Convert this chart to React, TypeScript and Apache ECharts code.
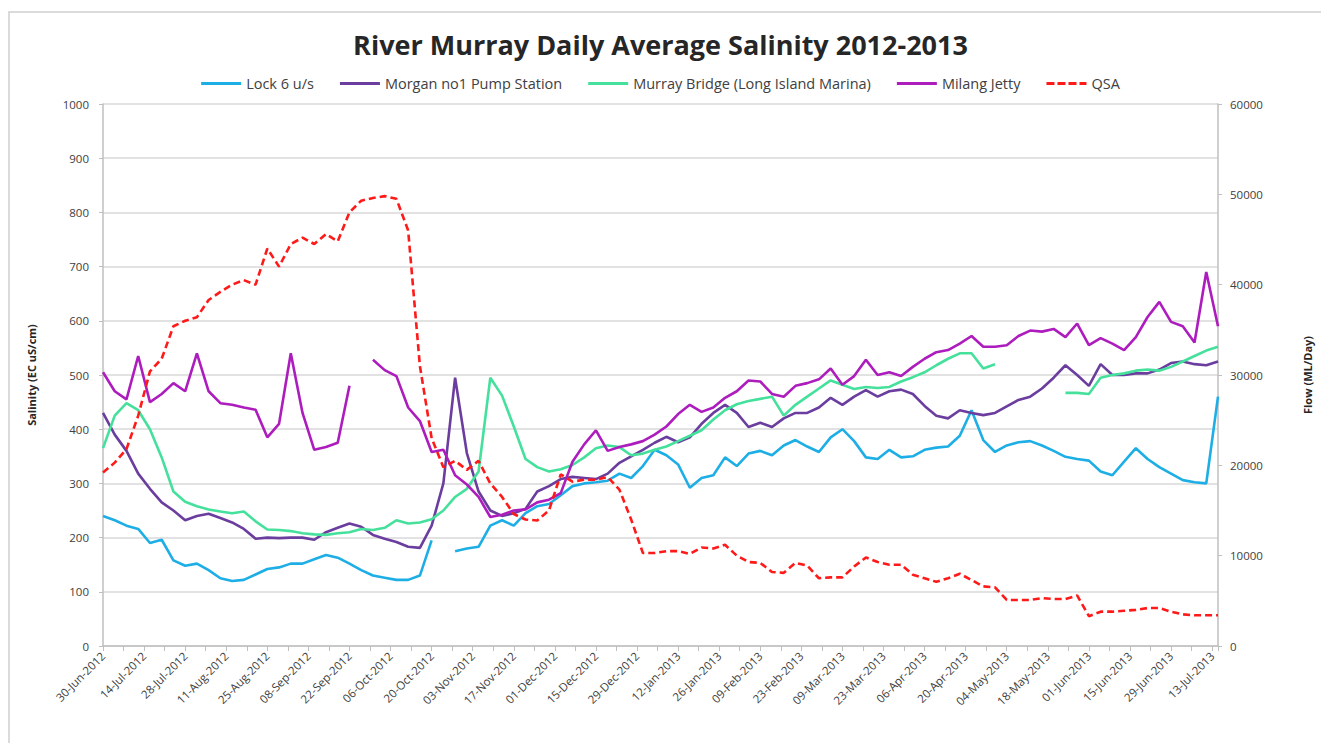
import React, { useEffect, useRef } from "react";
import * as echarts from "echarts";

// Day 0 = 30-Jun-2012; samples every 4 days up to day 380 (15-Jul-2013)
const START_UTC = Date.UTC(2012, 5, 30);
const STEP_DAYS = 4;
const AXIS_MAX_DAY = 380;
const LABEL_EVERY_DAYS = 14;
const MONTHS = ["Jan", "Feb", "Mar", "Apr", "May", "Jun", "Jul", "Aug", "Sep", "Oct", "Nov", "Dec"];

const seriesNames = [
  "Lock 6 u/s",
  "Morgan no1 Pump Station",
  "Murray Bridge (Long Island Marina)",
  "Milang Jetty",
  "QSA",
];

const lock6 = [
  240, 232, 222, 216, 190, 196, 158, 148, 152, 140,
  125, 120, 122, 132, 142, 145, 152, 152, 160, 168,
  163, 152, 140, 130, 126, 122, 122, 130, 195, null,
  175, 180, 183, 222, 232, 222, 245, 258, 262, 278,
  295, 300, 302, 305, 318, 310, 332, 362, 352, 335,
  292, 310, 315, 348, 332, 355, 360, 352, 370, 380,
  368, 358, 385, 400, 378, 348, 345, 362, 348, 350,
  362, 366, 368, 388, 435, 380, 358, 370, 376, 378,
  370, 360, 349, 345, 342, 322, 315, 340, 365, 345,
  330, 318, 306, 302, 300, 460,
];

const morgan = [
  430, 390, 360, 318, 290, 265, 250, 232, 240, 244,
  236, 228, 216, 198, 200, 199, 200, 200, 196, 210,
  218, 226, 220, 205, 198, 192, 183, 181, 222, 300,
  495, 356, 285, 250, 240, 245, 253, 285, 295, 308,
  312, 310, 308, 318, 338, 350, 362, 375, 386, 376,
  385, 410, 430, 445, 430, 404, 412, 404, 420, 430,
  430, 440, 458, 445, 460, 472, 460, 470, 473, 465,
  443, 425, 420, 435, 430, 426, 430, 442, 454, 460,
  475, 495, 518, 500, 480, 520, 500, 500, 503, 503,
  510, 522, 525, 520, 518, 525,
];

const murrayBridge = [
  365, 425, 448, 435, 400, 348, 285, 266, 258, 252,
  248, 245, 248, 230, 215, 214, 212, 208, 206, 205,
  208, 210, 216, 214, 218, 232, 226, 228, 234, 250,
  275, 290, 322, 495, 462, 405, 345, 330, 322, 326,
  334, 348, 365, 370, 367, 352, 355, 362, 368, 378,
  388, 398, 418, 435, 446, 452, 456, 460, 425, 445,
  460, 475, 490, 482, 474, 478, 476, 478, 488, 496,
  505, 518, 530, 540, 540, 512, 520, null, null, null,
  null, null, 467, 467, 465, 495, 500, 503, 508, 510,
  508, 515, 525, 535, 545, 552,
];

const milang = [
  505, 470, 455, 535, 450, 465, 485, 470, 540, 470,
  448, 445, 440, 436, 385, 410, 540, 430, 362, 367,
  375, 480, null, 528, 509, 498, 440, 415, 358, 362,
  315, 298, 275, 238, 242, 250, 252, 265, 270, 282,
  340, 372, 398, 360, 367, 372, 378, 390, 405, 428,
  445, 432, 440, 458, 470, 490, 488, 465, 460, 480,
  485, 492, 512, 482, 498, 528, 500, 505, 498, 515,
  530, 542, 546, 558, 572, 552, 552, 555, 572, 582,
  580, 585, 570, 595, 555, 568, 558, 546, 570, 607,
  635, 598, 590, 560, 690, 590,
];

const qsaFlow = [
  19200, 20300, 21800, 25500, 30400, 31800, 35400, 36000, 36400, 38300,
  39200, 40000, 40500, 40000, 44000, 42000, 44500, 45200, 44500, 45600,
  44800, 48000, 49300, 49600, 49800, 49500, 46000, 31000, 23000, 19800,
  20500, 19500, 20500, 18000, 16500, 14600, 14000, 13900, 15000, 19000,
  18200, 18400, 18400, 18700, 17300, 14000, 10300, 10300, 10500, 10500,
  10200, 10900, 10800, 11200, 10000, 9300, 9200, 8200, 8100, 9200,
  8900, 7500, 7600, 7600, 8800, 9800, 9300, 9000, 9000, 7900,
  7500, 7100, 7500, 8000, 7300, 6600, 6500, 5100, 5100, 5100,
  5300, 5200, 5200, 5600, 3300, 3800, 3800, 3900, 4000, 4200,
  4200, 3800, 3500, 3400, 3400, 3400,
];

const colors = ["#1eaee6", "#6a3d9e", "#45e09c", "#ad1cbd", "#ff1a1a"];

const sampleDays = lock6.map((_, i) => i * STEP_DAYS);

function fmtDay(d: number): string {
  const dt = new Date(START_UTC + d * 86400000);
  const dd = String(dt.getUTCDate()).padStart(2, "0");
  return `${dd}-${MONTHS[dt.getUTCMonth()]}-${dt.getUTCFullYear()}`;
}

const FONT = "'Open Sans', Lato, sans-serif";
const SOLID_ICON = "path://M0,0H40V3H0Z";
const DASH_ICON = "path://M0,0H8V3H0Z M11,0H19V3H11Z M22,0H30V3H22Z M33,0H40V3H33Z";

export default function App() {
  const ref = useRef<HTMLDivElement>(null);
  useEffect(() => {
    if (!ref.current) return;
    const chart = echarts.init(ref.current, undefined, { renderer: "svg" });
    const salSeries = [lock6, morgan, murrayBridge, milang];
    const series: any[] = salSeries.map((arr, k) => ({
      name: seriesNames[k],
      type: "line",
      yAxisIndex: 0,
      showSymbol: false,
      symbol: "none",
      connectNulls: false,
      lineStyle: { width: 2.6, color: colors[k] },
      itemStyle: { color: colors[k] },
      data: sampleDays.map((d, i) => [d, arr[i]]),
    }));
    series.push({
      name: seriesNames[4],
      type: "line",
      yAxisIndex: 1,
      showSymbol: false,
      symbol: "none",
      lineStyle: { width: 2.6, color: colors[4], type: [7, 4] },
      itemStyle: { color: colors[4] },
      data: sampleDays.map((d, i) => [d, qsaFlow[i]]),
    });

    chart.setOption({
      animation: false,
      backgroundColor: "#ffffff",
      textStyle: { fontFamily: FONT },
      title: {
        text: "River Murray Daily Average Salinity 2012-2013",
        left: "center",
        top: 26,
        textStyle: { fontFamily: FONT, fontSize: 27, fontWeight: "bold", color: "#262626" },
      },
      legend: {
        top: 71,
        left: "center",
        itemWidth: 40,
        itemHeight: 3,
        itemGap: 26,
        textStyle: { fontFamily: FONT, fontSize: 14.5, color: "#404040" },
        data: seriesNames.map((n, k) => ({ name: n, icon: k === 4 ? DASH_ICON : SOLID_ICON })),
      },
      grid: { left: 103, right: 101, top: 104, bottom: 97, containLabel: false },
      xAxis: {
        type: "value",
        min: 0,
        max: AXIS_MAX_DAY,
        interval: LABEL_EVERY_DAYS,
        splitLine: { show: false },
        axisLine: { show: true, lineStyle: { color: "#bfbfbf", width: 1.5 } },
        axisTick: { show: true, length: 5, lineStyle: { color: "#bfbfbf" } },
        minorTick: { show: true, splitNumber: 2, length: 5, lineStyle: { color: "#bfbfbf" } },
        axisLabel: {
          rotate: 45,
          formatter: (v: number) => fmtDay(v),
          showMaxLabel: false,
          fontFamily: FONT,
          fontSize: 11.5,
          color: "#404040",
          margin: 8,
        },
      },
      yAxis: [
        {
          type: "value",
          min: 0,
          max: 1000,
          interval: 100,
          name: "Salinity (EC uS/cm)",
          nameLocation: "middle",
          nameGap: 66,
          nameRotate: 90,
          nameTextStyle: { fontFamily: FONT, fontSize: 11, fontWeight: "bold", color: "#262626" },
          axisLine: { show: true, lineStyle: { color: "#bfbfbf", width: 1.5 } },
          axisTick: { show: true, length: 4, lineStyle: { color: "#bfbfbf" } },
          axisLabel: {
            fontFamily: FONT,
            fontSize: 11.5,
            color: "#404040",
            margin: 14,
            formatter: (v: number) => String(v),
          },
          splitLine: { show: true, lineStyle: { color: "#d9d9d9", width: 1.5 } },
        },
        {
          type: "value",
          min: 0,
          max: 60000,
          interval: 10000,
          name: "Flow (ML/Day)",
          nameLocation: "middle",
          nameGap: 84,
          nameRotate: 90,
          nameTextStyle: { fontFamily: FONT, fontSize: 11, fontWeight: "bold", color: "#262626" },
          axisLine: { show: true, lineStyle: { color: "#bfbfbf", width: 1.5 } },
          axisTick: { show: true, length: 4, lineStyle: { color: "#bfbfbf" } },
          axisLabel: {
            fontFamily: FONT,
            fontSize: 11.5,
            color: "#404040",
            margin: 12,
            formatter: (v: number) => String(v),
          },
          splitLine: { show: false },
        },
      ],
      graphic: [
        {
          type: "rect",
          silent: true,
          shape: { x: 9, y: 12, width: 1330, height: 740 },
          style: { fill: "none", stroke: "#cfcfcf", lineWidth: 1.5 },
          z: -10,
        },
      ],
      series,
    });
    return () => chart.dispose();
  }, []);
  return (
    <div
      ref={ref}
      style={{ position: "fixed", left: 0, top: 0, width: 1321, height: 743, background: "#fff" }}
    />
  );
}
